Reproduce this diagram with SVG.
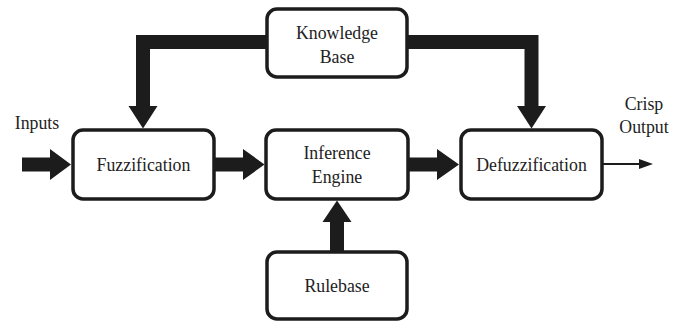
<svg xmlns="http://www.w3.org/2000/svg" width="684" height="326" viewBox="0 0 684 326">
<style>
.box{fill:#fff;stroke:#1c1c1c;stroke-width:3.5}
.t{font-family:"Liberation Serif","DejaVu Serif",serif;font-size:17.8px;fill:#222;text-anchor:middle}
.arr{fill:#1c1c1c;stroke:none}
.thin{stroke:#1c1c1c;stroke-width:2;fill:none}
</style>
<rect width="684" height="326" fill="#fff"/>
<g id="connectors">
<polygon class="arr" points="22,157.5 50,157.5 50,149 71,164.5 50,180 50,171.5 22,171.5"/>
<polygon class="arr" points="215,157.5 243,157.5 243,149 264.5,164.5 243,180 243,171.5 215,171.5"/>
<polygon class="arr" points="409,157.5 437,157.5 437,149 459,164.5 437,180 437,171.5 409,171.5"/>
<polygon class="arr" points="267,35 136,35 136,106 128.5,106 143,128.5 157.5,106 150,106 150,49 267,49"/>
<polygon class="arr" points="407,35 538.5,35 538.5,106 546,106 531.5,128.5 517,106 524.5,106 524.5,49 407,49"/>
<polygon class="arr" points="330,251 330,222 322.5,222 337,200.5 351.5,222 344,222 344,251"/>
<line class="thin" x1="603" y1="164" x2="644" y2="164"/>
<polygon class="arr" points="639,159 653,164 639,169"/>
</g>
<g id="knowledge-base">
<rect class="box" x="267" y="9" width="140" height="68" rx="10"/>
<text class="t" x="337" y="39">Knowledge</text>
<text class="t" x="337" y="63">Base</text>
</g>
<g id="fuzzification">
<rect class="box" x="73" y="130" width="141" height="69" rx="10"/>
<text class="t" x="143.5" y="170.5">Fuzzification</text>
</g>
<g id="inference-engine">
<rect class="box" x="266" y="130" width="142" height="69" rx="10"/>
<text class="t" x="337" y="159">Inference</text>
<text class="t" x="337" y="183">Engine</text>
</g>
<g id="defuzzification">
<rect class="box" x="461" y="130" width="141" height="69" rx="10"/>
<text class="t" x="531.5" y="170.5">Defuzzification</text>
</g>
<g id="rulebase">
<rect class="box" x="267" y="252" width="140" height="67" rx="10"/>
<text class="t" x="337" y="292">Rulebase</text>
</g>
<g id="labels">
<text class="t" x="37" y="129">Inputs</text>
<text class="t" x="644" y="110">Crisp</text>
<text class="t" x="644" y="133">Output</text>
</g>
</svg>
